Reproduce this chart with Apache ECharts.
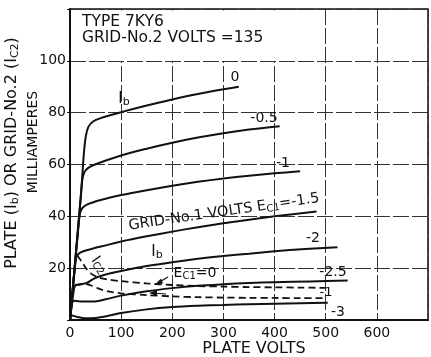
<!DOCTYPE html>
<html><head><meta charset="utf-8">
<script src="https://cdn.jsdelivr.net/npm/echarts@6/dist/echarts.min.js"></script>
<style>html,body{margin:0;padding:0;background:#fff}#c{width:431px;height:357px}</style>
</head><body><div id="c"></div>
<script>
// Tick labels
const xTickLabels = [0, 100, 200, 300, 400, 500, 600];
const yTickLabels = [20, 40, 60, 80, 100];

// Plate current Ib, one curve per grid-No.1 voltage  [plate volts, mA]
const ib_0    = [[0,0],[22,50],[27,64],[31,71],[36,74.5],[45,76.6],[60,77.9],[100,80.2],[150,82.8],[200,85.1],[250,87.2],[300,89],[330,90]];
const ib_m05  = [[0,0],[21,47],[24,54],[28,57],[35,58.6],[50,60.1],[100,63.5],[150,66.1],[200,68.4],[250,70.4],[300,72.1],[350,73.5],[410,74.8]];
const ib_m1   = [[0,0],[17,37],[20,41.5],[25,43.4],[35,44.7],[60,46.3],[100,48.2],[150,50.1],[200,51.8],[250,53.3],[300,54.6],[350,55.7],[400,56.6],[450,57.4]];
const ib_m15  = [[0,0],[10,21],[13,24.5],[20,26],[40,27.3],[70,28.8],[100,30.3],[150,32.3],[200,34.1],[250,35.8],[300,37.3],[350,38.7],[400,40],[482,41.9]];
const ib_m2   = [[0,0],[7,11],[10,13.2],[20,13.7],[33,14.3],[45,15.8],[60,17],[100,18.9],[150,20.8],[200,22.3],[250,23.6],[300,24.7],[350,25.6],[400,26.5],[460,27.4],[523,28.1]];
const ib_m25  = [[0,0],[4,6.5],[8,7.4],[25,7.1],[45,7.1],[70,8],[100,9.4],[150,11.1],[200,12.3],[250,13.2],[300,13.8],[350,14.3],[400,14.6],[470,14.9],[543,15.2]];
const ib_m3   = [[0,0],[3,1.8],[10,1.4],[30,0.7],[50,0.8],[75,1.6],[100,2.7],[150,4.1],[200,5],[250,5.5],[300,5.8],[350,6.1],[400,6.3],[450,6.5],[504,6.7]];

// Grid-No.2 current Ic2 (dashed)
const ic2_0   = [[14,25],[22,22.8],[32,19.8],[42,17.8],[55,16.5],[75,15.6],[100,15],[150,14.1],[200,13.5],[250,13.1],[300,12.9],[350,12.7],[400,12.6],[450,12.5],[500,12.4]];
const ic2_m1  = [[10,13.5],[30,13.9],[40,13.4],[55,12.2],[75,11],[100,10.3],[150,9.6],[200,9.1],[250,8.8],[300,8.65],[350,8.55],[400,8.5],[450,8.45],[500,8.4]];

const FONT = 'DejaVu Sans';
const INK = '#111';

function solid(data){ return {type:'line', data, symbol:'none', smooth:0.3, lineStyle:{color:INK, width:2}, z:3}; }
function dashed(data){ return {type:'line', data, symbol:'none', smooth:0.3, lineStyle:{color:INK, width:1.8, type:[7,4]}, z:3}; }

const chart = echarts.init(document.getElementById('c'), null, {renderer:'canvas'});

function txt(x, y, text, opts){
  opts = opts || {};
  return {type:'text', x, y, rotation: opts.rot || 0, z: 20,
    style:{text, fill:INK, font: (opts.size||13) + 'px "' + FONT + '"',
      textAlign: opts.align || 'center', textVerticalAlign: 'middle'}};
}
function richTxt(x, y, text, size, subSize, rot){
  return {type:'text', x, y, rotation: rot || 0, z:20,
    style:{text, textAlign:'center', textVerticalAlign:'middle',
      rich:{n:{fontSize:size, fontFamily:FONT, fill:INK}, s:{fontSize:subSize, fontFamily:FONT, fill:INK, padding:[Math.round(size*0.45),0,0,0]}}}};
}

chart.setOption({
  animation:false,
  backgroundColor:'#fff',
  grid:{left:70, right:-3, top:9, bottom:37, show:true, borderColor:INK, borderWidth:1.5, backgroundColor:'transparent'},
  xAxis:{type:'value', min:0, max:700, interval:100,
    axisLine:{show:true, lineStyle:{color:INK, width:2}},
    axisTick:{show:false},
    axisLabel:{color:INK, fontFamily:FONT, fontSize:14, margin:6,
      formatter:v => xTickLabels.includes(v) ? String(v) : ''},
    splitLine:{show:true, lineStyle:{color:'#333', width:1, type:[16,3]}}},
  yAxis:{type:'value', min:0, max:120, interval:20,
    axisLine:{show:true, lineStyle:{color:INK, width:2}},
    axisTick:{show:true, length:3, lineStyle:{color:INK}},
    axisLabel:{color:INK, fontFamily:FONT, fontSize:14, margin:4,
      formatter:v => yTickLabels.includes(v) ? String(v) : ''},
    splitLine:{show:true, lineStyle:{color:'#333', width:1, type:[16,3]}}},
  series:[solid(ib_0), solid(ib_m05), solid(ib_m1), solid(ib_m15), solid(ib_m2), solid(ib_m25), solid(ib_m3), dashed(ic2_0), dashed(ic2_m1)],
  graphic:[
    {type:'rect', z:10, shape:{x:72, y:10.5, width:203, height:50.5}, style:{fill:'#fff'}},
    txt(82, 22, 'TYPE 7KY6', {align:'left', size:15.5}),
    txt(82, 38, 'GRID-No.2 VOLTS =135', {align:'left', size:15.5}),
    // axis titles
    richTxt(12, 153, '{n|PLATE (I}{s|b}{n|) OR GRID-No.2 (I}{s|C2}{n|)}', 16, 11, Math.PI/2),
    txt(33, 142, 'MILLIAMPERES', {rot:Math.PI/2, size:14}),
    txt(254, 349, 'PLATE VOLTS', {size:16}),
    // curve labels
    txt(235, 77, '0', {size:14}),
    txt(264, 118, '-0.5', {size:14}),
    txt(283, 163, '-1', {size:14}),
    richTxt(124, 99, '{n|I}{s|b}', 15, 11),
    richTxt(224, 212, '{n|GRID-No.1 VOLTS E}{s|C1}{n|=-1.5}', 14.5, 10, 0.145),
    richTxt(157, 252, '{n|I}{s|b}', 15, 11),
    txt(313, 238, '-2', {size:14}),
    richTxt(195, 273, '{n|E}{s|C1}{n|=0}', 14, 10),
    txt(333, 272, '-2.5', {size:14}),
    txt(326, 293, '-1', {size:13}),
    txt(338, 312, '-3', {size:14}),
    richTxt(99, 265, '{n|I}{s|C2}', 14, 10, -0.96),
    // arrows
    {type:'polyline', z:20, shape:{points:[[168,277],[157,283.5]]}, style:{stroke:INK, lineWidth:1.2, fill:null}},
    {type:'polygon', z:20, shape:{points:[[155,284.5],[161,278.5],[163,283.5]]}, style:{fill:INK}},
    {type:'polyline', z:20, shape:{points:[[166,294],[152,293]]}, style:{stroke:INK, lineWidth:1.2, fill:null}},
    {type:'polygon', z:20, shape:{points:[[149,293],[157,290],[157,296]]}, style:{fill:INK}}
  ]
});
</script></body></html>
